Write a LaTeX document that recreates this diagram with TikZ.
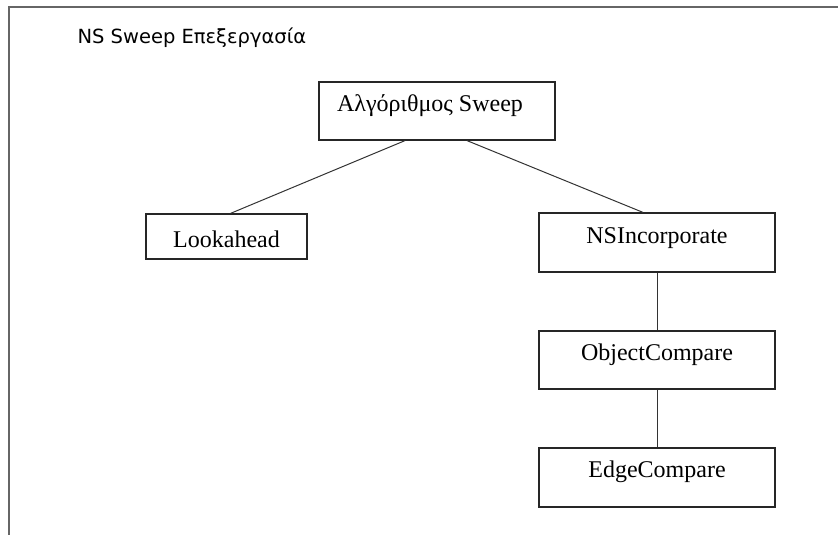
\documentclass[tikz,border=0pt]{standalone}
\usepackage{fontspec}
\setmainfont{Liberation Serif}
\newfontfamily\titlefont{DejaVu Sans}
\begin{document}
\begin{tikzpicture}[x=1pt,y=-1pt,
  framestyle/.style={draw=black!60,line width=1.6pt},
  treebox/.style={draw=black!85,line width=1.2pt,rectangle,inner sep=0pt,
    anchor=base,minimum width=236pt,font=\fontsize{24}{28}\selectfont,
    text height=29pt,text depth=29pt},
  link/.style={draw=black!80,line width=1pt}]
\useasboundingbox (0,0) rectangle (838,535);

% open frame: top and left edges
\coordinate (ftl) at (9,7);
\coordinate (ftr) at (838,7);
\coordinate (fbl) at (9,535);
\draw[framestyle] (ftr) -- (ftl) -- (fbl);

\node[anchor=base west,font=\titlefont\fontsize{19.5}{23}\selectfont] (title) at (74,44) {NS Sweep Επεξεργασία};

% tree boxes (placed by text baseline)
\node[treebox] (root) at (437,111) {\hspace*{-14pt}Αλγόριθμος Sweep};
\node[treebox,minimum width=161pt,text height=33pt,text depth=12pt] (look) at (226.5,247) {Lookahead};
\node[treebox,text height=30pt,text depth=29pt] (ns) at (657,243) {NSIncorporate};
\node[treebox] (obj) at (657,360) {ObjectCompare};
\node[treebox,text height=29.5pt,text depth=29.5pt] (edge) at (657,477.5) {EdgeCompare};

% connectors
\draw[link] ([xshift=-32pt]root.south) -- ([xshift=4pt]look.north);
\draw[link] ([xshift=30pt]root.south) -- ([xshift=-14pt]ns.north);
\draw[link] (ns.south) -- (obj.north);
\draw[link] (obj.south) -- (edge.north);
\end{tikzpicture}
\end{document}
